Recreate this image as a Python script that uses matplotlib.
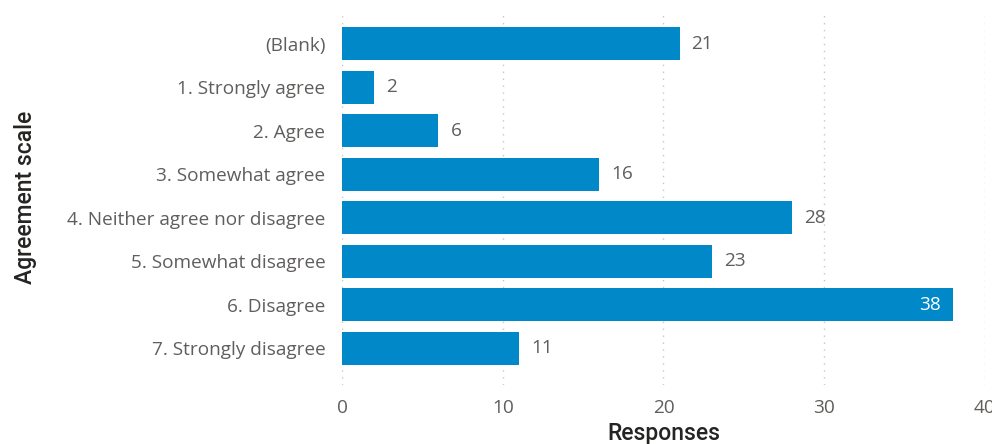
import matplotlib
matplotlib.use('Agg')
import matplotlib.pyplot as plt

categories = ['(Blank)', '1. Strongly agree', '2. Agree', '3. Somewhat agree',
              '4. Neither agree nor disagree', '5. Somewhat disagree',
              '6. Disagree', '7. Strongly disagree']
responses = [21, 2, 6, 16, 28, 23, 38, 11]
x_ticks = [0, 10, 20, 30, 40]

BAR = '#0088C9'
TICK_COL = '#605E5C'
TITLE_COL = '#252423'

plt.rcParams['font.family'] = ['Open Sans', 'DejaVu Sans']

fig = plt.figure(figsize=(9.92, 4.44), dpi=100)
ax = fig.add_axes([0.3448, 0.133, 0.648, 0.8445])

y = list(range(len(categories)))
ax.barh(y, responses, height=0.76, color=BAR, zorder=3)

ax.set_ylim(len(categories) - 1 + 0.85, -0.78)
ax.set_xlim(0, 40)
ax.set_xticks(x_ticks)
ax.set_yticks(y)
ax.set_yticklabels(categories)
ax.tick_params(axis='both', length=0, colors=TICK_COL, labelsize=13.7)
ax.tick_params(axis='y', pad=12)
ax.tick_params(axis='x', pad=10)
for s in ax.spines.values():
    s.set_visible(False)
ax.grid(axis='x', color='#C8C6C4', ls=(0, (1, 4)), lw=1, zorder=0)

# value labels: outside the bar, or inside in white when the bar is long
for yi, v in zip(y, responses):
    if v >= 35:
        ax.text(v - 0.75, yi, str(v), ha='right', va='center', color='white',
                fontsize=13.7, zorder=4)
    else:
        ax.text(v + 0.75, yi, str(v), ha='left', va='center', color=TICK_COL,
                fontsize=13.7, zorder=4)

ax.set_xlabel('Responses', fontsize=16.5, color=TITLE_COL, family=['Roboto', 'DejaVu Sans'],
              fontweight='medium')
ax.set_ylabel('Agreement scale', fontsize=16.5, color=TITLE_COL, family=['Roboto', 'DejaVu Sans'],
              fontweight='medium')
ax.xaxis.set_label_coords(0.5, -0.10)
ax.yaxis.set_label_coords(-0.475, 0.5)

fig.savefig('out.png', dpi=100)
